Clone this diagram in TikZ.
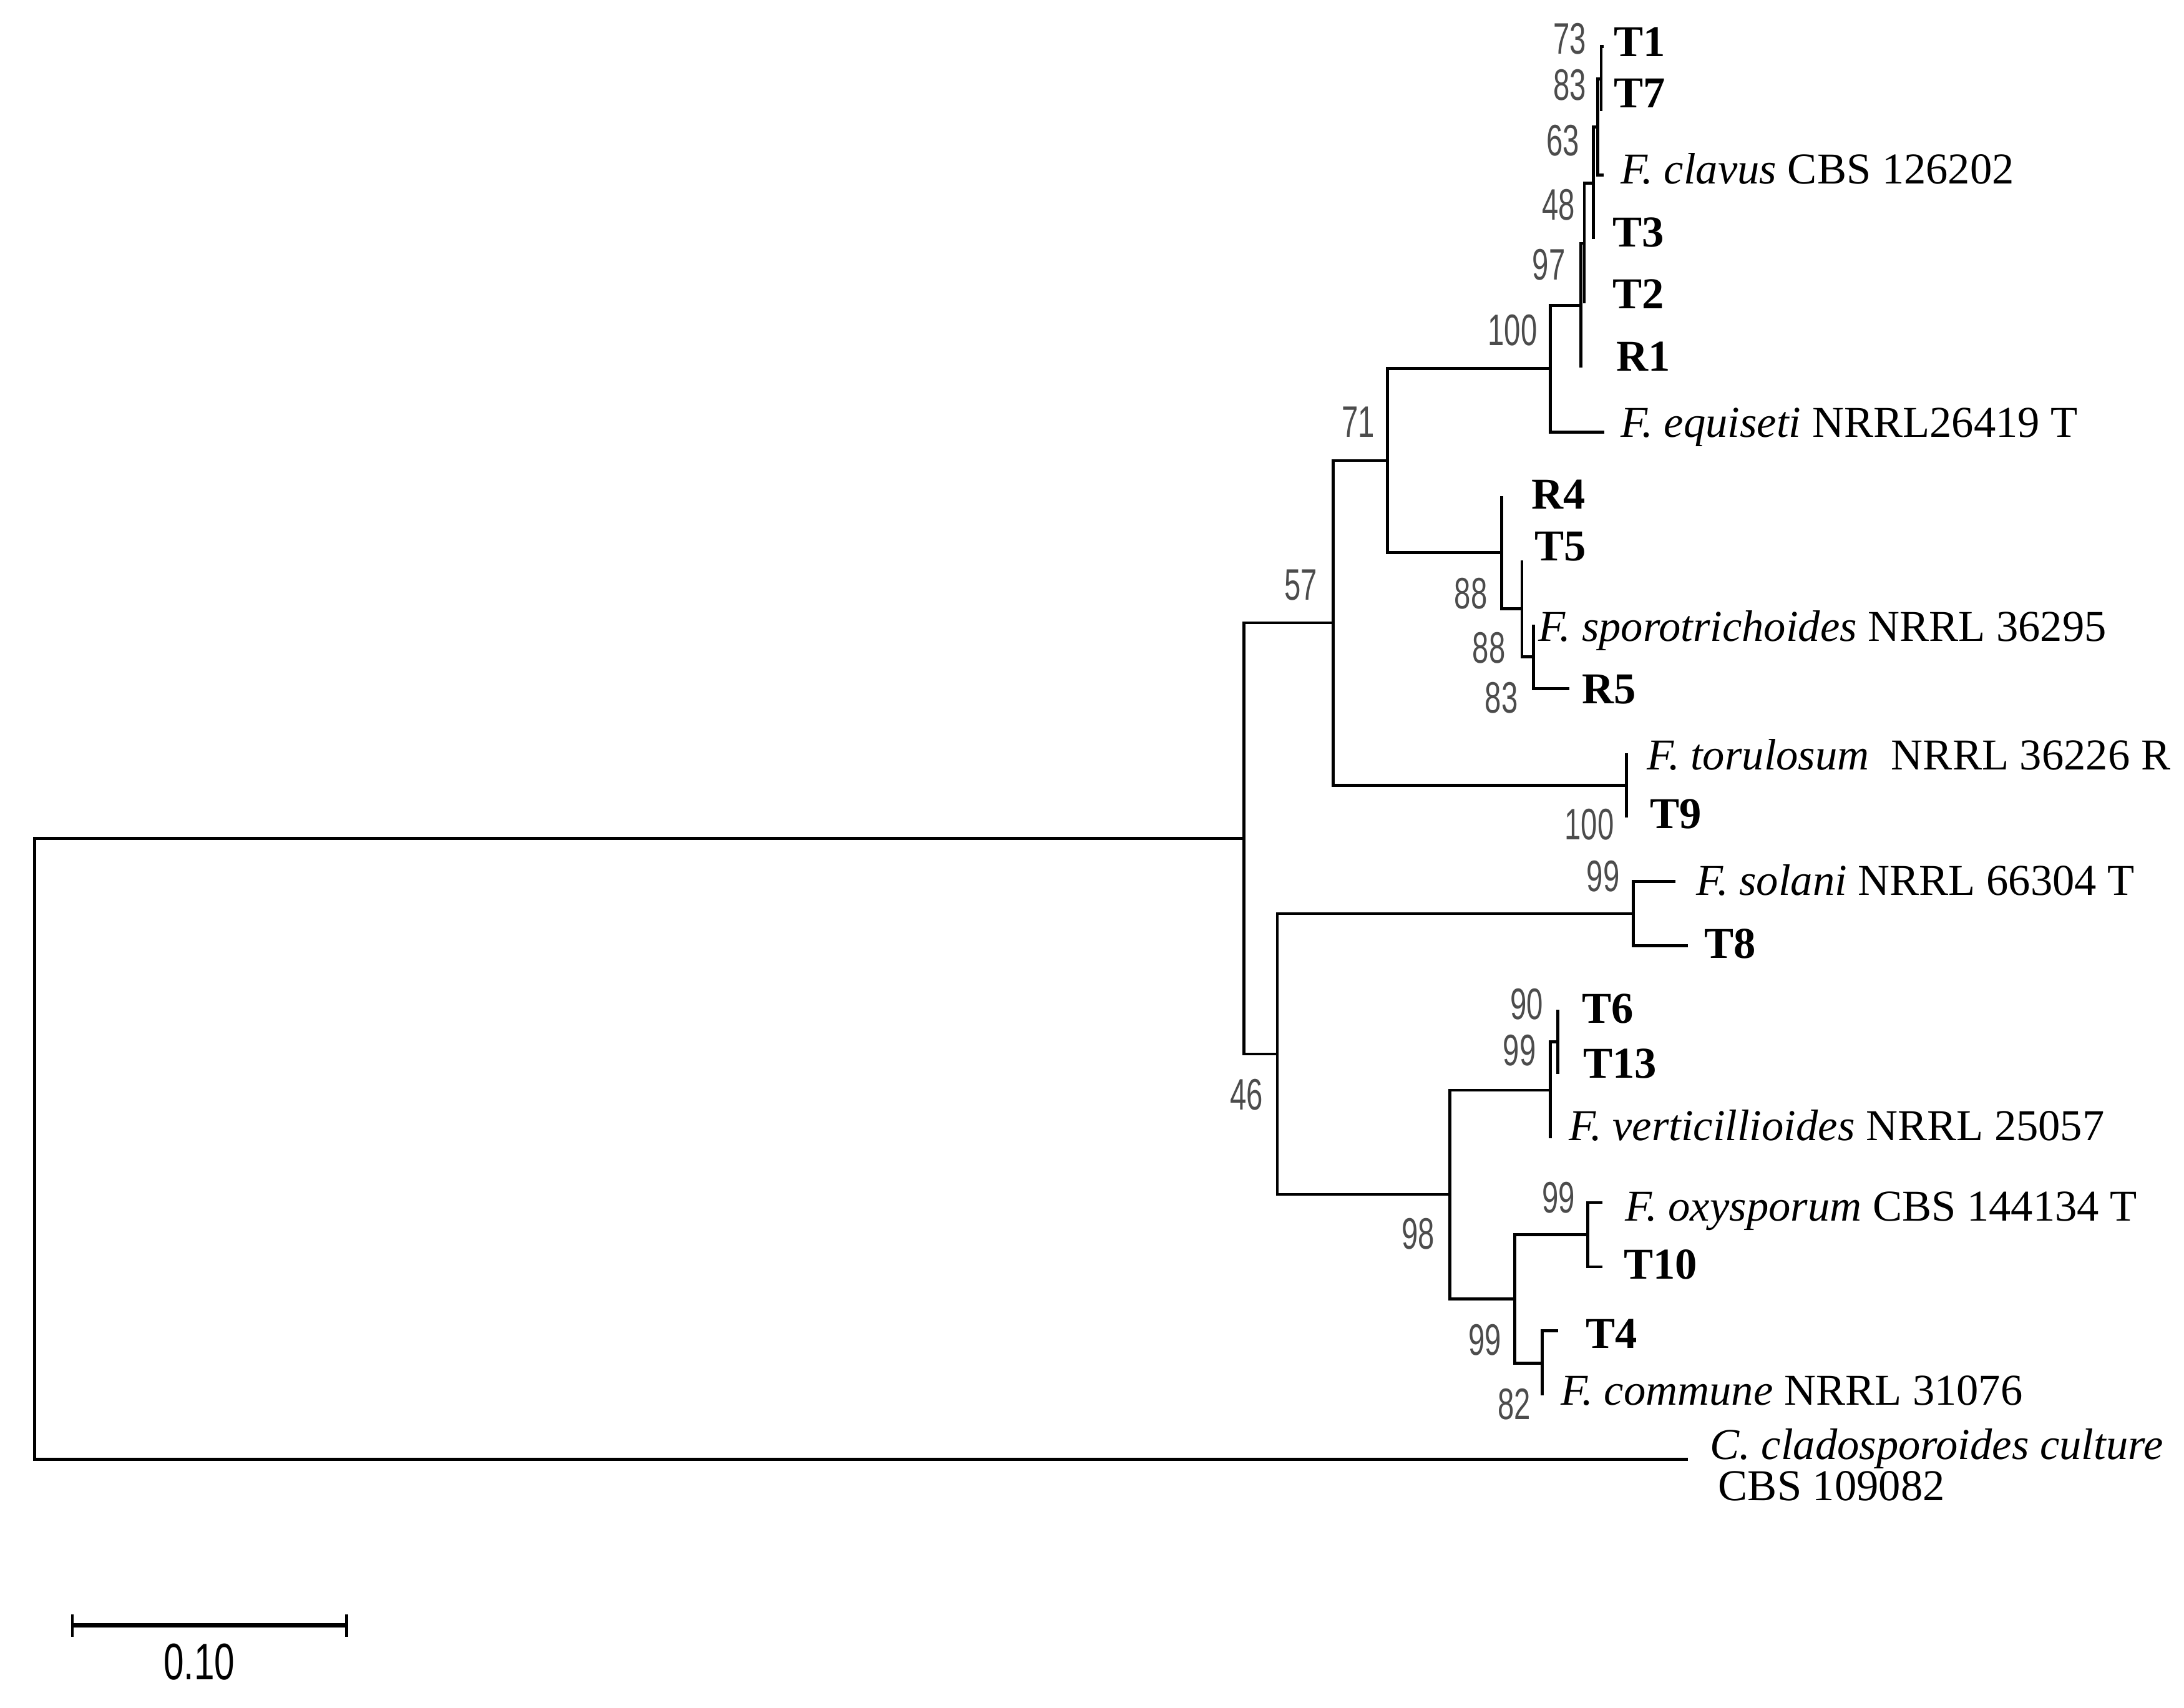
\documentclass[tikz,border=0pt]{standalone}
\usepackage{fontspec}
\setmainfont{Liberation Serif}
\newfontfamily\bootfont{Liberation Sans}
\usepackage{tikz}

\tikzset{
    branch/.style={line width=0.6pt},
    taxon/.style={anchor=base west, inner sep=0pt, font=\fontsize{9}{11}\selectfont},
    isolate/.style={taxon, font=\fontsize{9}{11}\selectfont\bfseries},
    boot/.style={inner sep=0pt, xscale=0.67, text=black!70, font=\bootfont\fontsize{9}{11}\selectfont}
}

\begin{document}
\begin{tikzpicture}[x=0.1mm, y=-0.1mm]
    \useasboundingbox (0,0) rectangle (1568,1226);

    % Internal nodes
    \coordinate (root) at (25,824.8);
    \coordinate (ingroup) at (893,601.9);
    \coordinate (n57) at (957,447.1);
    \coordinate (n46) at (917,756.7);
    \coordinate (n71) at (996,330.6);
    \coordinate (n100a) at (1113,264.7);
    \coordinate (n97) at (1135,219.35);
    \coordinate (n48) at (1137.5,174.7);
    \coordinate (n63) at (1144,131.45);
    \coordinate (n83a) at (1147,91.1);
    \coordinate (n73) at (1149.5,56.55);
    \coordinate (n88a) at (1078,396.55);
    \coordinate (n88b) at (1092.7,436.9);
    \coordinate (n83b) at (1100.8,471.45);
    \coordinate (n100b) at (1167.6,563.65);
    \coordinate (n99a) at (1172.5,655.85);
    \coordinate (n98) at (1041,857.5);
    \coordinate (n99b) at (1113,782.6);
    \coordinate (n90) at (1118.5,748.05);
    \coordinate (n99d) at (1087.5,932.45);
    \coordinate (n99c) at (1140,886.35);
    \coordinate (n82) at (1107.3,978.55);

    % Tips
    \coordinate (tT1) at (1151.5,33.5);
    \coordinate (tT7) at (1149.5,79.6);
    \coordinate (tclavus) at (1151.5,125.7);
    \coordinate (tT3) at (1144,171.8);
    \coordinate (tT2) at (1137.5,217.9);
    \coordinate (tR1) at (1135,264);
    \coordinate (tequiseti) at (1152,310.1);
    \coordinate (tR4) at (1078,356.2);
    \coordinate (tT5) at (1092.7,402.3);
    \coordinate (tsporo) at (1100.8,448.4);
    \coordinate (tR5) at (1126.8,494.5);
    \coordinate (ttorulosum) at (1167.6,540.6);
    \coordinate (tT9) at (1167.6,586.7);
    \coordinate (tsolani) at (1203,632.8);
    \coordinate (tT8) at (1212,678.9);
    \coordinate (tT6) at (1118.5,725);
    \coordinate (tT13) at (1118.5,771.1);
    \coordinate (tvert) at (1113,817.2);
    \coordinate (toxy) at (1150.6,863.3);
    \coordinate (tT10) at (1150.6,909.4);
    \coordinate (tT4) at (1118.5,955.5);
    \coordinate (tcommune) at (1107.3,1001.6);
    \coordinate (tclado) at (1212,1047.7);

    % Branches
    \foreach \p/\c in {root/ingroup, root/tclado, ingroup/n57, ingroup/n46,
        n57/n71, n57/n100b, n71/n100a, n71/n88a,
        n100a/n97, n100a/tequiseti, n97/n48, n97/tR1, n48/n63, n48/tT2,
        n63/n83a, n63/tT3, n83a/n73, n83a/tclavus, n73/tT1, n73/tT7,
        n88a/tR4, n88a/n88b, n88b/tT5, n88b/n83b, n83b/tsporo, n83b/tR5,
        n100b/ttorulosum, n100b/tT9,
        n46/n99a, n46/n98, n99a/tsolani, n99a/tT8,
        n98/n99b, n98/n99d, n99b/n90, n99b/tvert, n90/tT6, n90/tT13,
        n99d/n99c, n99d/n82, n99c/toxy, n99c/tT10, n82/tT4, n82/tcommune}
        \draw[branch] (\p) |- (\c);

    % Tip labels
    \node[isolate] (lT1) at (1158,40.5) {T1};
    \node[isolate] (lT7) at (1158,77.5) {T7};
    \node[taxon] (lclavus) at (1163,132) {\textit{F. clavus} CBS 126202};
    \node[isolate] (lT3) at (1157,177) {T3};
    \node[isolate] (lT2) at (1157,221.5) {T2};
    \node[isolate] (lR1) at (1160,266.5) {R1};
    \node[taxon] (lequiseti) at (1163,314) {\textit{F. equiseti} NRRL26419 T};
    \node[isolate] (lR4) at (1099,365.5) {R4};
    \node[isolate] (lT5) at (1101,402.5) {T5};
    \node[taxon] (lsporo) at (1104,460.5) {\textit{F. sporotrichoides} NRRL 36295};
    \node[isolate] (lR5) at (1135,505) {R5};
    \node[taxon] (ltorulosum) at (1182,552.5) {\textit{F. torulosum}\ \ NRRL 36226 R};
    \node[isolate] (lT9) at (1184,594.5) {T9};
    \node[taxon] (lsolani) at (1217,642.5) {\textit{F. solani} NRRL 66304 T};
    \node[isolate] (lT8) at (1223,688) {T8};
    \node[isolate] (lT6) at (1135,734.5) {T6};
    \node[isolate] (lT13) at (1136,774) {T13};
    \node[taxon] (lvert) at (1126,818.5) {\textit{F. verticillioides} NRRL 25057};
    \node[taxon] (loxy) at (1166,876.5) {\textit{F. oxysporum} CBS 144134 T};
    \node[isolate] (lT10) at (1165,918) {T10};
    \node[isolate] (lT4) at (1138,968) {T4};
    \node[taxon] (lcommune) at (1120,1008.5) {\textit{F. commune} NRRL 31076};
    \node[taxon] (lclado) at (1227,1047.5) {\textit{C. cladosporoides culture}};
    \node[taxon] (lcbs) at (1233,1077) {CBS 109082};

    % Bootstrap values
    \node[boot] (b73) at (1127,28) {73};
    \node[boot] (b83a) at (1127,61) {83};
    \node[boot] (b63) at (1122,101) {63};
    \node[boot] (b48) at (1119,147) {48};
    \node[boot] (b97) at (1112,190) {97};
    \node[boot] (b100a) at (1086,237) {100};
    \node[boot] (b71) at (975,303) {71};
    \node[boot] (b57) at (934,420) {57};
    \node[boot] (b88a) at (1056,426) {88};
    \node[boot] (b88b) at (1069,465) {88};
    \node[boot] (b83b) at (1078,501) {83};
    \node[boot] (b100b) at (1141,592) {100};
    \node[boot] (b99a) at (1151,629) {99};
    \node[boot] (b90) at (1096,721) {90};
    \node[boot] (b99b) at (1091,754) {99};
    \node[boot] (b46) at (895,786) {46};
    \node[boot] (b99c) at (1119,860) {99};
    \node[boot] (b98) at (1018,886) {98};
    \node[boot] (b99d) at (1066,962) {99};
    \node[boot] (b82) at (1087,1008) {82};

    % Scale bar
    \coordinate (s0) at (52,1167);
    \coordinate (s1) at (249,1167);
    \draw[line width=0.9pt] (s0) -- (s1);
    \draw[line width=0.6pt] (52,1159) -- (52,1175);
    \draw[line width=0.6pt] (249,1159) -- (249,1175);
    \node[inner sep=0pt, xscale=0.71, font=\bootfont\fontsize{10.5}{12}\selectfont] (scale) at (143,1193) {0.10};
\end{tikzpicture}
\end{document}
